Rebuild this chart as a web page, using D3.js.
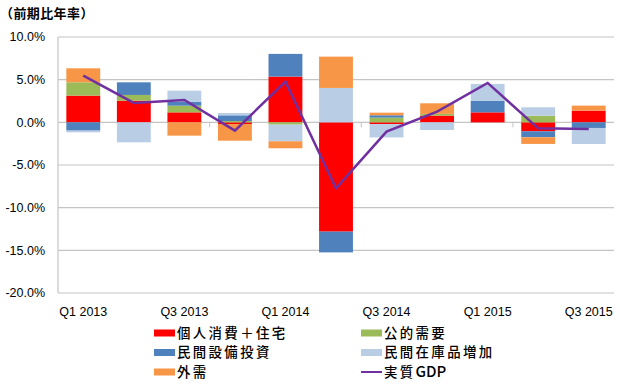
<!DOCTYPE html>
<html>
<head>
<meta charset="utf-8">
<script src="https://cdn.jsdelivr.net/npm/d3@7"></script>
<style>
  body { margin: 0; background: #fff; }
  svg { display: block; }
</style>
</head>
<body>
<div id="chart"></div>
<script>
const quarters = ["Q1 2013", "Q2 2013", "Q3 2013", "Q4 2013", "Q1 2014", "Q2 2014", "Q3 2014", "Q4 2014", "Q1 2015", "Q2 2015", "Q3 2015"];
const tickLabels = ["Q1 2013", "Q3 2013", "Q1 2014", "Q3 2014", "Q1 2015", "Q3 2015"];
const yTicks = [10, 5, 0, -5, -10, -15, -20];

// contributions (percentage points)
const consumption = [3.13, 2.54, 1.17, -0.2, 5.36, -12.81, -0.2, 0.79, 1.17, -1.05, 1.37];
const publicDemand = [1.56, 0.67, 0.78, 0.15, -0.27, 0, 0.55, 0.2, 0, 0.78, 0];
const capex = [-0.97, 1.48, 0.47, 0.67, 2.66, -2.43, 0.28, 0, 1.37, -0.7, -0.66];
const inventory = [-0.2, -2.34, 1.29, 0.27, -1.95, 4.03, -1.57, -0.9, 1.96, 0.98, -1.88];
const external = [1.64, 0, -1.56, -1.95, -0.82, 3.67, 0.3, 1.24, 0, -0.78, 0.59];
const gdp = [5.47, 2.27, 2.62, -0.97, 4.77, -7.74, -1.09, 1.25, 4.62, -0.7, -0.77];

const seriesKeys = ["consumption", "publicDemand", "capex", "inventory", "external"];
const seriesNames = ["個人消費＋住宅", "公的需要", "民間設備投資", "民間在庫品増加", "外需"];
const seriesColors = ["#ff0000", "#9bbb59", "#4f81bd", "#b9cde5", "#f79646"];
const gdpColor = "#7030a0";

const rows = quarters.map((q, i) => ({
  q: q,
  consumption: consumption[i],
  publicDemand: publicDemand[i],
  capex: capex[i],
  inventory: inventory[i],
  external: external[i]
}));

const W = 620, H = 385;
const plot = {left: 58, right: 614, top: 37, bottom: 293};

const svg = d3.select("#chart").append("svg")
  .attr("width", W)
  .attr("height", H);

const x = d3.scaleBand()
  .domain(quarters)
  .range([plot.left, plot.right])
  .paddingInner(0.33)
  .paddingOuter(0.165);

const y = d3.scaleLinear()
  .domain([-20, 10])
  .range([plot.bottom, plot.top]);

// title
svg.append("text")
  .attr("x", 0)
  .attr("y", 18)
  .attr("font-family", "Noto Sans CJK JP")
  .attr("font-size", 13)
  .attr("font-weight", 700)
  .attr("letter-spacing", 0.4)
  .attr("fill", "#000")
  .text("（前期比年率）");

// gridlines
svg.append("g")
  .selectAll("line")
  .data(yTicks)
  .enter()
  .append("line")
  .attr("x1", plot.left)
  .attr("x2", plot.right)
  .attr("y1", d => y(d))
  .attr("y2", d => y(d))
  .attr("stroke", "#c4c4c4")
  .attr("stroke-width", 1.2);

// y axis line
svg.append("line")
  .attr("x1", plot.left)
  .attr("x2", plot.left)
  .attr("y1", plot.top)
  .attr("y2", plot.bottom)
  .attr("stroke", "#c4c4c4")
  .attr("stroke-width", 1.2);

// y labels
svg.append("g")
  .selectAll("text")
  .data(yTicks)
  .enter()
  .append("text")
  .attr("x", 45)
  .attr("y", d => y(d))
  .attr("dy", "0.35em")
  .attr("text-anchor", "end")
  .attr("font-family", "Liberation Sans, Arial, sans-serif")
  .attr("font-size", 12.5)
  .attr("fill", "#000")
  .text(d => d.toFixed(1) + "%");

// small tick marks on the zero line
const step = x.step();
svg.append("g")
  .selectAll("line")
  .data([3, 6, 9])
  .enter()
  .append("line")
  .attr("x1", d => plot.left + d * step)
  .attr("x2", d => plot.left + d * step)
  .attr("y1", y(0))
  .attr("y2", y(0) + 5)
  .attr("stroke", "#c4c4c4")
  .attr("stroke-width", 1);

// stacked bars
const stack = d3.stack()
  .keys(seriesKeys)
  .order(d3.stackOrderNone)
  .offset(d3.stackOffsetDiverging);

const layers = stack(rows);

svg.append("g")
  .selectAll("g")
  .data(layers)
  .enter()
  .append("g")
  .attr("fill", (d, i) => seriesColors[i])
  .selectAll("rect")
  .data(d => d)
  .enter()
  .append("rect")
  .attr("x", d => x(d.data.q))
  .attr("width", x.bandwidth())
  .attr("y", d => y(Math.max(d[0], d[1])))
  .attr("height", d => Math.abs(y(d[0]) - y(d[1])));

// GDP line
const line = d3.line()
  .x((d, i) => x(quarters[i]) + x.bandwidth() / 2)
  .y(d => y(d));

svg.append("path")
  .datum(gdp)
  .attr("d", line)
  .attr("fill", "none")
  .attr("stroke", gdpColor)
  .attr("stroke-width", 2.5)
  .attr("stroke-linejoin", "miter");

// x labels
svg.append("g")
  .selectAll("text")
  .data(tickLabels)
  .enter()
  .append("text")
  .attr("x", d => x(d) + x.bandwidth() / 2)
  .attr("y", 316)
  .attr("text-anchor", "middle")
  .attr("font-family", "Liberation Sans, Arial, sans-serif")
  .attr("font-size", 12.5)
  .attr("fill", "#000")
  .text(d => d);

// legend
const legendItems = [
  {name: seriesNames[0], color: seriesColors[0], col: 0, row: 0, type: "rect"},
  {name: seriesNames[1], color: seriesColors[1], col: 1, row: 0, type: "rect"},
  {name: seriesNames[2], color: seriesColors[2], col: 0, row: 1, type: "rect"},
  {name: seriesNames[3], color: seriesColors[3], col: 1, row: 1, type: "rect"},
  {name: seriesNames[4], color: seriesColors[4], col: 0, row: 2, type: "rect"},
  {name: "実質GDP", color: gdpColor, col: 1, row: 2, type: "line"}
];
const colX = [154, 361];
const rowY = [333, 352.5, 372];

const legend = svg.append("g")
  .selectAll("g")
  .data(legendItems)
  .enter()
  .append("g")
  .attr("transform", d => `translate(${colX[d.col]},${rowY[d.row]})`);

legend.filter(d => d.type === "rect")
  .append("rect")
  .attr("x", 0)
  .attr("y", -3.5)
  .attr("width", 21)
  .attr("height", 7)
  .attr("fill", d => d.color);

legend.filter(d => d.type === "line")
  .append("line")
  .attr("x1", 0)
  .attr("x2", 21)
  .attr("y1", 0)
  .attr("y2", 0)
  .attr("stroke", d => d.color)
  .attr("stroke-width", 2);

const legendText = legend.append("text")
  .attr("x", 23)
  .attr("y", 0)
  .attr("dy", "0.36em")
  .attr("font-family", "Noto Sans CJK JP")
  .attr("font-size", 13.4)
  .attr("font-weight", 500)
  .attr("fill", "#000");

// wide letter spacing only on the CJK part, latin (GDP) stays tight
legendText.each(function (d) {
  const parts = d.name.match(/[^\x00-\x7f]+|[\x00-\x7f]+/g);
  const t = d3.select(this);
  parts.forEach(p => {
    const ascii = /^[\x00-\x7f]+$/.test(p);
    t.append("tspan")
      .attr("letter-spacing", ascii ? 0 : 2.4)
      .attr("font-size", ascii ? 15 : 13.4)
      .text(p);
  });
});
</script>
</body>
</html>
